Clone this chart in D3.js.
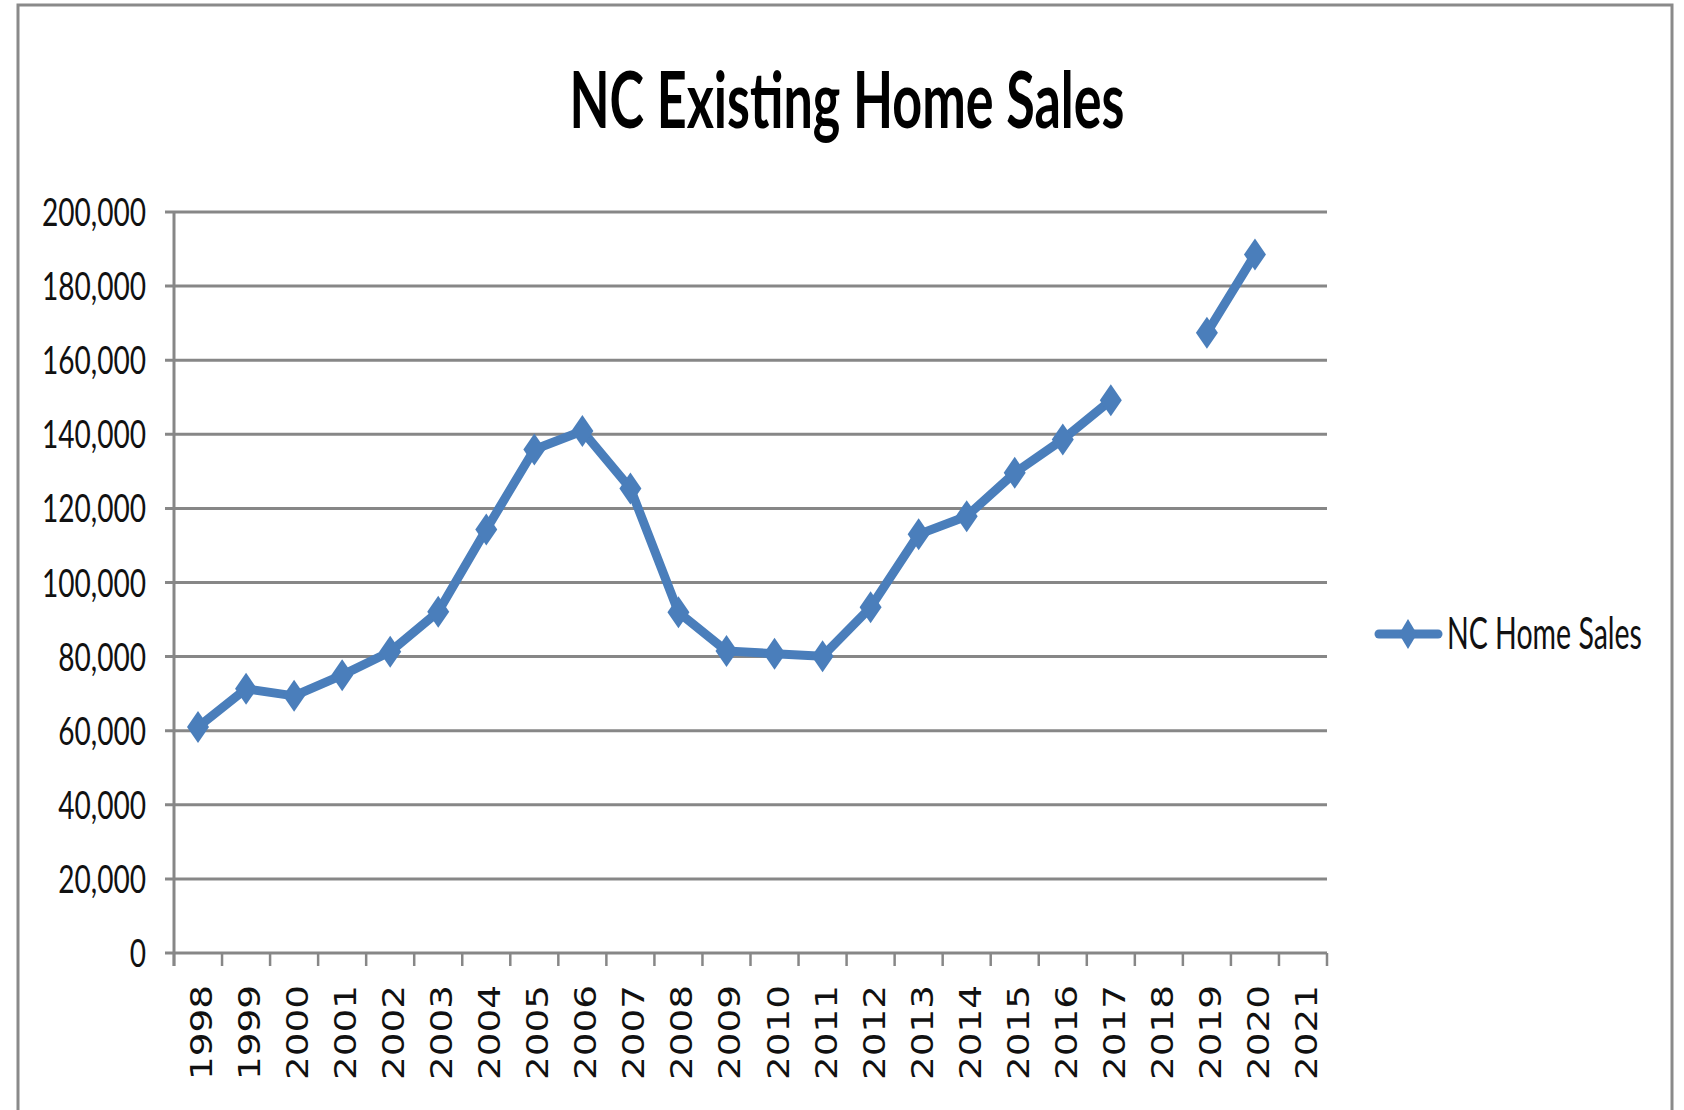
<!DOCTYPE html>
<html>
<head>
<meta charset="utf-8">
<script src="https://cdn.jsdelivr.net/npm/d3@7"></script>
<style>
  html, body { margin: 0; padding: 0; background: #ffffff; }
  svg { display: block; }
</style>
</head>
<body>
<svg id="chart" width="1684" height="1110"></svg>
<script>
// ---- data ----
const years = ["1998","1999","2000","2001","2002","2003","2004","2005","2006","2007","2008","2009","2010","2011","2012","2013","2014","2015","2016","2017","2018","2019","2020","2021"];
const sales = [61000, 71300, 69400, 75000, 81300, 92100, 114300, 135900, 140900, 125400, 92000, 81500, 80800, 80100, 93300, 113000, 117900, 129600, 138600, 149200, null, 167400, 188500, null];
const yTicks = [0, 20000, 40000, 60000, 80000, 100000, 120000, 140000, 160000, 180000, 200000];
const titleText = "NC Existing Home Sales";
const seriesName = "NC Home Sales";

// ---- layout ----
const W = 1684, H = 1110;
const plot = { left: 174, right: 1327, top: 212, bottom: 953 };
const gridColor = "#878787";
const lineColor = "#4A7EBB";
const uiFont = "Lato, 'Open Sans', 'Liberation Sans', sans-serif";

const svg = d3.select("#chart");

// outer border
svg.append("rect")
  .attr("x", 18).attr("y", 5)
  .attr("width", 1672 - 18).attr("height", H + 20)
  .attr("fill", "#fff").attr("stroke", "#8a8a8a").attr("stroke-width", 3);

const x = d3.scaleBand().domain(years).range([plot.left, plot.right]).padding(0);
const y = d3.scaleLinear().domain([0, 200000]).range([plot.bottom, plot.top]);

// gridlines
svg.append("g").selectAll("line").data(yTicks).join("line")
  .attr("x1", plot.left - 9).attr("x2", plot.right)
  .attr("y1", d => y(d)).attr("y2", d => y(d))
  .attr("stroke", gridColor).attr("stroke-width", 3);

// y axis line
svg.append("line")
  .attr("x1", plot.left).attr("x2", plot.left)
  .attr("y1", plot.top).attr("y2", plot.bottom + 13)
  .attr("stroke", gridColor).attr("stroke-width", 3);

// x axis ticks at band boundaries
const boundaries = years.map(d => x(d)).concat([plot.right]);
svg.append("g").selectAll("line").data(boundaries).join("line")
  .attr("x1", d => d).attr("x2", d => d)
  .attr("y1", plot.bottom).attr("y2", plot.bottom + 13)
  .attr("stroke", gridColor).attr("stroke-width", 2.5);

// y tick labels
const fmt = d3.format(",");
const yLab = svg.append("g").selectAll("text").data(yTicks).join("text")
  .attr("x", 146).attr("y", d => y(d) + 14)
  .attr("text-anchor", "end")
  .attr("font-family", uiFont).attr("font-size", 39)
  .attr("fill", "#111")
  .text(d => fmt(d));
// horizontally condense labels so "200,000" spans ~104px
let refW = 0;
yLab.each(function(d) { if (d === 200000) refW = this.getComputedTextLength(); });
const sx = refW ? 104 / refW : 1;
yLab.each(function() {
  const n = this.getComputedTextLength();
  d3.select(this).attr("textLength", n * sx).attr("lengthAdjust", "spacingAndGlyphs");
});

// x tick labels (rotated)
svg.append("g").selectAll("text").data(years).join("text")
  .attr("transform", d => `translate(${x(d) + x.bandwidth() / 2 + 14},985) rotate(-90)`)
  .attr("text-anchor", "end")
  .attr("font-family", "'DejaVu Sans', sans-serif").attr("font-size", 30)
  .attr("fill", "#111")
  .attr("textLength", 95).attr("lengthAdjust", "spacingAndGlyphs")
  .text(d => d);

// series line
const pts = years.map((yr, i) => ({ yr, v: sales[i] }));
const line = d3.line()
  .defined(d => d.v != null)
  .x(d => x(d.yr) + x.bandwidth() / 2)
  .y(d => y(d.v));
svg.append("path").datum(pts)
  .attr("d", line)
  .attr("fill", "none").attr("stroke", lineColor)
  .attr("stroke-width", 9).attr("stroke-linejoin", "round").attr("stroke-linecap", "round");

// diamond markers
const dW = 22, dH = 32;
const diamond = `M0,${-dH/2}L${dW/2},0L0,${dH/2}L${-dW/2},0Z`;
svg.append("g").selectAll("path").data(pts.filter(d => d.v != null)).join("path")
  .attr("transform", d => `translate(${x(d.yr) + x.bandwidth() / 2},${y(d.v)})`)
  .attr("d", diamond).attr("fill", lineColor);

// title
svg.append("text")
  .attr("x", 847).attr("y", 128)
  .attr("text-anchor", "middle")
  .attr("font-family", uiFont).attr("font-weight", 700).attr("font-size", 79)
  .attr("fill", "#000")
  .attr("textLength", 555).attr("lengthAdjust", "spacingAndGlyphs")
  .text(titleText);

// legend
const lg = svg.append("g");
lg.append("line")
  .attr("x1", 1379).attr("x2", 1438).attr("y1", 634).attr("y2", 634)
  .attr("stroke", lineColor).attr("stroke-width", 9).attr("stroke-linecap", "round");
lg.append("path").attr("transform", "translate(1408,634)")
  .attr("d", `M0,-15L9,0L0,15L-9,0Z`).attr("fill", lineColor);
const legText = lg.append("text")
  .attr("x", 1447).attr("y", 649)
  .attr("font-family", uiFont).attr("font-size", 44)
  .attr("fill", "#111")
  .text(seriesName);
// condense legend text to ~195px via a horizontal scale about its left edge
const lw = legText.node().getComputedTextLength();
const ls = lw ? 195 / lw : 1;
legText.attr("x", 0).attr("y", 0)
  .attr("transform", `translate(1447,649) scale(${ls},1)`);
</script>
</body>
</html>
